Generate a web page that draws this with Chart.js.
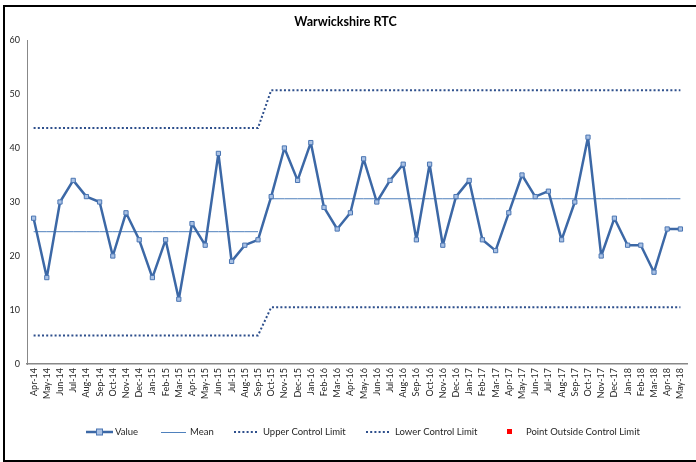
<!DOCTYPE html>
<html>
<head>
<meta charset="utf-8">
<script src="https://cdn.jsdelivr.net/npm/chart.js@4.4.0/dist/chart.umd.min.js"></script>
<style>
  html, body { margin: 0; padding: 0; background: #fff; }
  .frame { position: absolute; left: 3px; top: 5px; width: 700px; height: 453px; border: 2px solid #000; }
  #chart { position: absolute; left: 0; top: 0; }
</style>
</head>
<body>
<div class="frame"></div>
<canvas id="chart" width="696" height="462"></canvas>
<script>
const months = ['Apr-14','May-14','Jun-14','Jul-14','Aug-14','Sep-14','Oct-14','Nov-14','Dec-14','Jan-15','Feb-15','Mar-15',
  'Apr-15','May-15','Jun-15','Jul-15','Aug-15','Sep-15','Oct-15','Nov-15','Dec-15','Jan-16','Feb-16','Mar-16',
  'Apr-16','May-16','Jun-16','Jul-16','Aug-16','Sep-16','Oct-16','Nov-16','Dec-16','Jan-17','Feb-17','Mar-17',
  'Apr-17','May-17','Jun-17','Jul-17','Aug-17','Sep-17','Oct-17','Nov-17','Dec-17','Jan-18','Feb-18','Mar-18',
  'Apr-18','May-18'];

const values = [27,16,30,34,31,30,20,28,23,16,23,12,
  26,22,39,19,22,23,31,40,34,41,29,25,
  28,38,30,34,37,23,37,22,31,34,23,21,
  28,35,31,32,23,30,42,20,27,22,22,17,
  25,25];

// two process phases: Apr-14..Sep-15 and Oct-15 onwards
const phaseStart = [0, 18];
const phaseMean = [24.5, 30.6];
const phaseUCL = [43.7, 50.7];
const phaseLCL = [5.3, 10.5];

const outside = months.map(() => null);

const phaseOf = i => (i >= phaseStart[1] ? 1 : 0);
const mean = months.map((m, i) => phaseMean[phaseOf(i)]);
const ucl = months.map((m, i) => phaseUCL[phaseOf(i)]);
const lcl = months.map((m, i) => phaseLCL[phaseOf(i)]);

const FONT = 'Lato, "Open Sans", sans-serif';
const lineBlue = '#3C68A6';
const dotBlue = '#2E4F8C';

const legendItems = [
  { text: 'Value', type: 'value', x: 86 },
  { text: 'Mean', type: 'mean', x: 161 },
  { text: 'Upper Control Limit', type: 'dots', x: 234 },
  { text: 'Lower Control Limit', type: 'dots', x: 366 },
  { text: 'Point Outside Control Limit', type: 'red', x: 506 }
];

const bottomLegend = {
  id: 'bottomLegend',
  afterDraw(chart) {
    const ctx = chart.ctx;
    const y = 432;
    ctx.save();
    ctx.font = '9.5px ' + FONT;
    ctx.fillStyle = '#262626';
    ctx.textBaseline = 'middle';
    legendItems.forEach(it => {
      if (it.type === 'value') {
        ctx.strokeStyle = lineBlue; ctx.lineWidth = 2.5;
        ctx.beginPath(); ctx.moveTo(it.x, y); ctx.lineTo(it.x + 27, y); ctx.stroke();
        ctx.fillStyle = '#A9C1E4'; ctx.fillRect(it.x + 10.5, y - 3, 6, 6);
        ctx.strokeStyle = '#4A75B2'; ctx.lineWidth = 1; ctx.strokeRect(it.x + 10.5, y - 3, 6, 6);
        ctx.fillStyle = '#262626';
        ctx.fillText(it.text, it.x + 29, y);
      } else if (it.type === 'mean') {
        ctx.strokeStyle = '#4F81BD'; ctx.lineWidth = 1;
        ctx.beginPath(); ctx.moveTo(it.x, y + 0.5); ctx.lineTo(it.x + 25, y + 0.5); ctx.stroke();
        ctx.fillText(it.text, it.x + 29, y);
      } else if (it.type === 'dots') {
        ctx.fillStyle = dotBlue;
        for (let k = 0; k < 6; k++) ctx.fillRect(it.x + k * 4.2, y - 1, 2, 2);
        ctx.fillStyle = '#262626';
        ctx.fillText(it.text, it.x + 29, y);
      } else {
        ctx.fillStyle = '#FF0000'; ctx.fillRect(it.x + 1, y - 3, 5, 5);
        ctx.fillStyle = '#262626';
        ctx.fillText(it.text, it.x + 20, y);
      }
    });
    ctx.restore();
  }
};

new Chart(document.getElementById('chart'), {
  type: 'line',
  data: {
    labels: months,
    datasets: [
      {
        label: 'Value', data: values, borderColor: lineBlue, borderWidth: 2.5,
        borderJoinStyle: 'round', borderCapStyle: 'round',
        pointStyle: 'rect', pointRadius: 3, pointBackgroundColor: '#A9C1E4',
        pointBorderColor: '#4A75B2', pointBorderWidth: 1, tension: 0, order: 0
      },
      {
        label: 'Mean', data: mean, borderColor: '#4F81BD', borderWidth: 1, pointRadius: 0,
        segment: { borderColor: c => (c.p0DataIndex === phaseStart[1] - 1 ? 'rgba(0,0,0,0)' : undefined) },
        order: 1
      },
      {
        label: 'Upper Control Limit', data: ucl, borderColor: dotBlue, borderWidth: 2,
        borderDash: [2, 2.2], pointRadius: 0, order: 2
      },
      {
        label: 'Lower Control Limit', data: lcl, borderColor: dotBlue, borderWidth: 2,
        borderDash: [2, 2.2], pointRadius: 0, order: 2
      },
      {
        label: 'Point Outside Control Limit', data: outside, showLine: false,
        pointStyle: 'rect', pointRadius: 3, pointBackgroundColor: '#FF0000', pointBorderColor: '#FF0000'
      }
    ]
  },
  options: {
    responsive: false,
    animation: false,
    layout: { padding: { left: 4, right: 9, top: 0, bottom: 0 } },
    plugins: {
      legend: { display: false },
      tooltip: { enabled: false },
      title: {
        display: true, text: 'Warwickshire RTC', color: '#000',
        font: { family: FONT, size: 12.5, weight: 'bold' },
        padding: { top: 14, bottom: 11 }
      }
    },
    scales: {
      x: {
        offset: true,
        grid: { display: false, drawTicks: false },
        border: { color: '#888', width: 1.5 },
        ticks: {
          autoSkip: false, minRotation: 90, maxRotation: 90, padding: 4,
          color: '#262626', font: { family: FONT, size: 9 }
        },
        afterFit: s => { s.height = 98; }
      },
      y: {
        min: 0, max: 60,
        grid: { display: false, drawTicks: true, tickLength: 4, color: '#888' },
        border: { color: '#888', width: 1 },
        ticks: { stepSize: 10, padding: 3, color: '#262626', font: { family: FONT, size: 9 } },
        afterFit: s => { s.width = 23; }
      }
    }
  },
  plugins: [bottomLegend]
});
</script>
</body>
</html>
